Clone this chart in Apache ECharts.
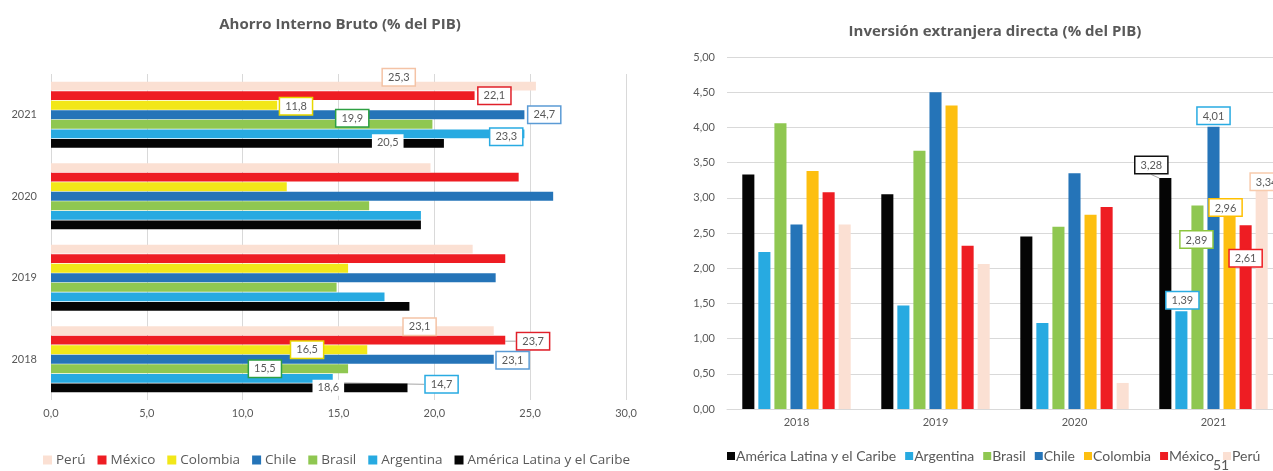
<!DOCTYPE html>
<html>
<head>
<meta charset="utf-8">
<script src="https://cdn.jsdelivr.net/npm/echarts@6/dist/echarts.min.js"></script>
<style>
html,body{margin:0;padding:0;background:#fff;overflow:hidden;}
#c{width:1292px;height:471px;}
</style>
</head>
<body>
<div id="c"></div>
<script>
// ---------- DATA ----------
const years = ['2018', '2019', '2020', '2021'];

// Left chart: Ahorro Interno Bruto (% del PIB)
const leftTitle = 'Ahorro Interno Bruto (% del PIB)';
const leftXTicks = { min: 0, max: 30, interval: 5 };
const ahorroALC       = [18.6, 18.7, 19.3, 20.5];
const ahorroArgentina = [14.7, 17.4, 19.3, 24.7];
const ahorroBrasil    = [15.5, 14.9, 16.6, 19.9];
const ahorroChile     = [23.1, 23.2, 26.2, 24.7];
const ahorroColombia  = [16.5, 15.5, 12.3, 11.8];
const ahorroMexico    = [23.7, 23.7, 24.4, 22.1];
const ahorroPeru      = [23.1, 22.0, 19.8, 25.3];
// label text as printed in the source (Argentina 2021 label reads 23,3)
const ahorroLabelText = { 'Argentina': { 3: '23,3' } };
const labeledYearsLeft = [0, 3];

// Right chart: Inversión extranjera directa (% del PIB)
const rightTitle = 'Inversión extranjera directa (% del PIB)';
const rightYTicks = { min: 0, max: 5, interval: 0.5 };
const iedALC       = [3.33, 3.05, 2.45, 3.28];
const iedArgentina = [2.23, 1.47, 1.22, 1.39];
const iedBrasil    = [4.06, 3.67, 2.59, 2.89];
const iedChile     = [2.62, 4.50, 3.35, 4.01];
const iedColombia  = [3.38, 4.31, 2.76, 2.96];
const iedMexico    = [3.08, 2.32, 2.87, 2.61];
const iedPeru      = [2.62, 2.06, 0.37, 3.34];
const labeledYearsRight = [3];

const names = ['América Latina y el Caribe', 'Argentina', 'Brasil', 'Chile', 'Colombia', 'México', 'Perú'];
const pageNumber = '51';

// ---------- STYLES ----------
const FONT = 'Lato';
const TXT = '#595959';
const GRID = '#d9d9d9';
const colorsLeft  = ['#050505', '#27aae1', '#8fc751', '#2574b8', '#f2e719', '#ee1d23', '#fbe0d3'];
const colorsRight = ['#050505', '#27aae1', '#8fc751', '#2574b8', '#fdbf10', '#ee1d23', '#fbe0d3'];
const borderLeft  = [null, '#29abe2', '#2ea043', '#5b9bd5', '#e8d800', '#e0202a', '#f4c3a6'];
const borderRight = ['#111111', '#29abe2', '#8dc63f', '#29abe2', '#ffc000', '#ee1d23', '#f8cbad'];

// label displacement [dx, dy] per series index, per data index
const leftOffsets = [
  {0: [-95, 0],  3: [-72, -1]},
  {0: [93, 6],   3: [-34, 3]},
  {0: [-99, 0],  3: [-96, -6]},
  {0: [3, 1],    3: [4, 0]},
  {0: [-76, 0],  3: [3, 1]},
  {0: [12, 1],   3: [4, 0]},
  {0: [-90, -4], 3: [-153, -9]}
];
const leftLeader = { 1: [0], 5: [0] };
const rightOffsets = [
  {3: [-14, -5]},
  {3: [1, -3]},
  {3: [-1, 42]},
  {3: [0, -3]},
  {3: [-4, 15]},
  {3: [0, 41]},
  {3: [5, 16]}
];
const rightLeader = { 0: [3] };

const leftData  = [ahorroALC, ahorroArgentina, ahorroBrasil, ahorroChile, ahorroColombia, ahorroMexico, ahorroPeru];
const rightData = [iedALC, iedArgentina, iedBrasil, iedChile, iedColombia, iedMexico, iedPeru];

const fmt = (v, d) => v.toFixed(d).replace('.', ',');

const series = [];
// horizontal chart: first series is drawn at the top of each group -> Perú first
names.map((n, i) => i).reverse().forEach((si) => {
  const name = names[si];
  const offs = leftOffsets[si];
  series.push({
    name: name,
    type: 'bar',
    xAxisIndex: 0, yAxisIndex: 0,
    barGap: '8%',
    barCategoryGap: '19%',
    itemStyle: { color: colorsLeft[si] },
    data: leftData[si].map((v, di) => {
      const item = { value: v };
      if (labeledYearsLeft.includes(di)) {
        const over = ahorroLabelText[name] && ahorroLabelText[name][di];
        item.label = {
          show: true, position: 'right', distance: 0,
          formatter: over ? over : fmt(v, 1),
          color: TXT, fontFamily: FONT, fontSize: 11,
          backgroundColor: '#fff',
          borderColor: borderLeft[si] || '#fff',
          borderWidth: borderLeft[si] ? 1.5 : 0,
          padding: [3, 5, 2, 5]
        };
        if (leftLeader[si] && leftLeader[si].includes(di)) {
          item.labelLine = { show: true, lineStyle: { color: '#a6a6a6', width: 1 } };
        }
      }
      return item;
    }),
    labelLayout: function (p) {
      const o = offs[p.dataIndex];
      return o ? { dx: o[0], dy: o[1] } : {};
    }
  });
});
names.forEach((name, si) => {
  const offs = rightOffsets[si];
  series.push({
    name: 'R:' + name,
    type: 'bar',
    xAxisIndex: 1, yAxisIndex: 1,
    barGap: '33%',
    barCategoryGap: '22%',
    itemStyle: { color: colorsRight[si] },
    data: rightData[si].map((v, di) => {
      const item = { value: v };
      if (labeledYearsRight.includes(di)) {
        item.label = {
          show: true, position: 'top', distance: 0,
          formatter: fmt(v, 2),
          color: TXT, fontFamily: FONT, fontSize: 11,
          backgroundColor: '#fff',
          borderColor: borderRight[si], borderWidth: 1.5,
          padding: [3, 5, 2, 5]
        };
        if (rightLeader[si] && rightLeader[si].includes(di)) {
          item.labelLine = { show: true, lineStyle: { color: '#a6a6a6', width: 1 } };
        }
      }
      return item;
    }),
    labelLayout: function (p) {
      const o = offs[p.dataIndex];
      return o ? { dx: o[0], dy: o[1] } : {};
    }
  });
});

const chart = echarts.init(document.getElementById('c'), null, { renderer: 'canvas' });
chart.setOption({
  backgroundColor: '#fff',
  animation: false,
  textStyle: { fontFamily: FONT },
  title: [
    { text: leftTitle, left: 335, top: 12, textAlign: 'center',
      textStyle: { fontFamily: 'Open Sans', fontWeight: 'bold', fontSize: 15, color: TXT } },
    { text: rightTitle, left: 990, top: 19, textAlign: 'center',
      textStyle: { fontFamily: 'Open Sans', fontWeight: 'bold', fontSize: 15, color: TXT } }
  ],
  legend: [
    { data: names.slice().reverse(), left: 38, top: 448, itemWidth: 9, itemHeight: 9, itemGap: 12,
      icon: 'rect', selectedMode: false,
      textStyle: { color: TXT, fontSize: 13.5, fontFamily: 'Open Sans', padding: [0, 0, 0, -1] } },
    { data: names.map(n => 'R:' + n), left: 722, top: 444, itemWidth: 8, itemHeight: 8, itemGap: 9,
      icon: 'rect', selectedMode: false,
      formatter: n => n.slice(2),
      textStyle: { color: TXT, fontSize: 14, fontFamily: FONT, padding: [0, 0, 0, -4] } }
  ],
  grid: [
    { left: 51, width: 575, top: 74, bottom: 71 },
    { left: 727, width: 556, top: 57, bottom: 62 }
  ],
  xAxis: [
    { type: 'value', gridIndex: 0, min: leftXTicks.min, max: leftXTicks.max, interval: leftXTicks.interval,
      axisLine: { show: false }, axisTick: { show: false },
      splitLine: { lineStyle: { color: GRID, width: 1 } },
      axisLabel: { color: TXT, fontSize: 11, fontFamily: FONT, margin: 8, formatter: v => fmt(v, 1) } },
    { type: 'category', gridIndex: 1, data: years,
      axisLine: { lineStyle: { color: GRID } }, axisTick: { show: false },
      axisLabel: { color: TXT, fontSize: 11, fontFamily: FONT, margin: 8 } }
  ],
  yAxis: [
    { type: 'category', gridIndex: 0, data: years,
      axisLine: { show: false }, axisTick: { show: false },
      axisLabel: { color: TXT, fontSize: 11, fontFamily: FONT, margin: 14 } },
    { type: 'value', gridIndex: 1, min: rightYTicks.min, max: rightYTicks.max, interval: rightYTicks.interval,
      axisLine: { show: false }, axisTick: { show: false },
      splitLine: { lineStyle: { color: GRID, width: 1 } },
      axisLabel: { color: TXT, fontSize: 11, fontFamily: FONT, margin: 12, formatter: v => fmt(v, 2) } }
  ],
  graphic: [
    { type: 'text', left: 1213, top: 458, style: { text: pageNumber, fill: TXT, font: '14px Lato' } }
  ],
  series: series
});
</script>
</body>
</html>
